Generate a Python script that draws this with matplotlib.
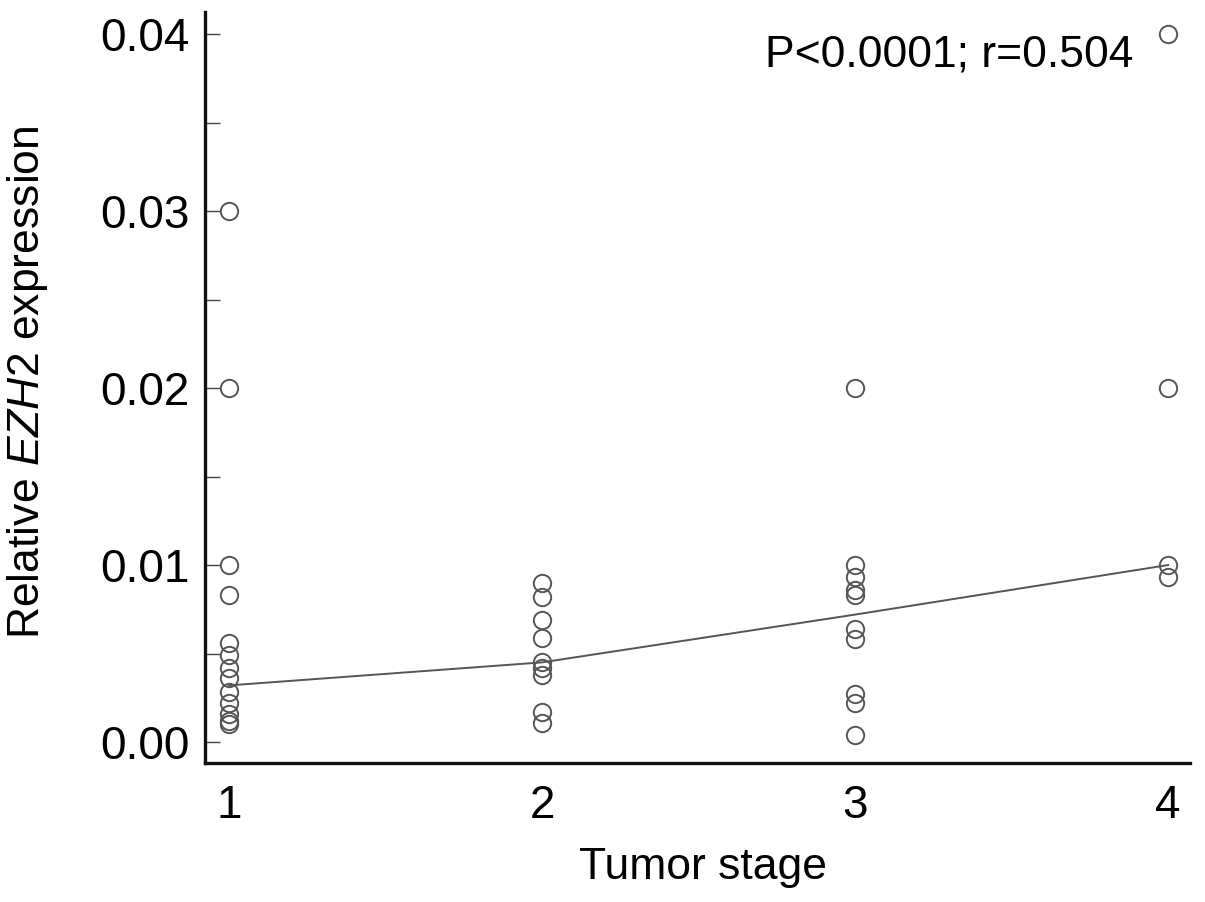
import matplotlib
matplotlib.use("Agg")
import matplotlib.pyplot as plt
import numpy as np

plt.rcParams['font.family'] = ['Liberation Sans', 'DejaVu Sans']
plt.rcParams['mathtext.fontset'] = 'custom'
plt.rcParams['mathtext.rm'] = 'Liberation Sans'
plt.rcParams['mathtext.it'] = 'Liberation Sans:italic'

# Data
stage1 = [0.030, 0.020, 0.0100, 0.0083, 0.0056, 0.0049, 0.0042, 0.0036,
          0.0028, 0.0022, 0.0016, 0.0012, 0.0010]
stage2 = [0.0090, 0.0082, 0.0069, 0.0059, 0.0045, 0.0042, 0.0038, 0.0017, 0.0011]
stage3 = [0.020, 0.0100, 0.0093, 0.0086, 0.0083, 0.0064, 0.0058, 0.0027, 0.0022, 0.0004]
stage4 = [0.040, 0.020, 0.0100, 0.0093]
stages = [1, 2, 3, 4]
trend = [0.0032, 0.0045, 0.0072, 0.0100]
annot = "P<0.0001; r=0.504"

fig = plt.figure(figsize=(12.05, 9.02), dpi=100)
ax = fig.add_axes([0.170, 0.154, 0.8176, 0.8326])

grey = '#555555'
ax.plot(stages, trend, color=grey, lw=1.4, zorder=2)
for s, vals in zip(stages, [stage1, stage2, stage3, stage4]):
    ax.plot([s] * len(vals), vals, linestyle='none', marker='o', ms=12.5,
            mfc='none', mec=grey, mew=1.4, zorder=3)

ax.set_xlim(0.923, 4.07)
ax.set_ylim(-0.00119, 0.04124)
ax.set_xticks(stages)
ax.set_xticklabels([str(s) for s in stages])
ax.set_yticks([0.0, 0.01, 0.02, 0.03, 0.04])
ax.set_yticklabels(['0.00', '0.01', '0.02', '0.03', '0.04'])
ax.set_yticks([0.005, 0.015, 0.025, 0.035], minor=True)

ax.tick_params(axis='y', which='both', direction='in', length=11, width=1.0,
               color='#444444', labelsize=33, pad=11)
ax.tick_params(axis='x', which='both', length=0, labelsize=33, pad=15)

for side in ['top', 'right']:
    ax.spines[side].set_visible(False)
for side in ['left', 'bottom']:
    ax.spines[side].set_linewidth(2.4)
    ax.spines[side].set_color('#111111')

ax.set_xlabel('Tumor stage', fontsize=32)
ax.xaxis.set_label_coords(0.5056, -0.112)
ax.set_ylabel('Relative $\\it{EZH2}$ expression', fontsize=32)
ax.yaxis.set_label_coords(-0.157, 0.507)

ax.text(0.942, 0.943, annot, transform=ax.transAxes, ha='right', va='center',
        fontsize=32)

fig.savefig('out.png', dpi=100)
